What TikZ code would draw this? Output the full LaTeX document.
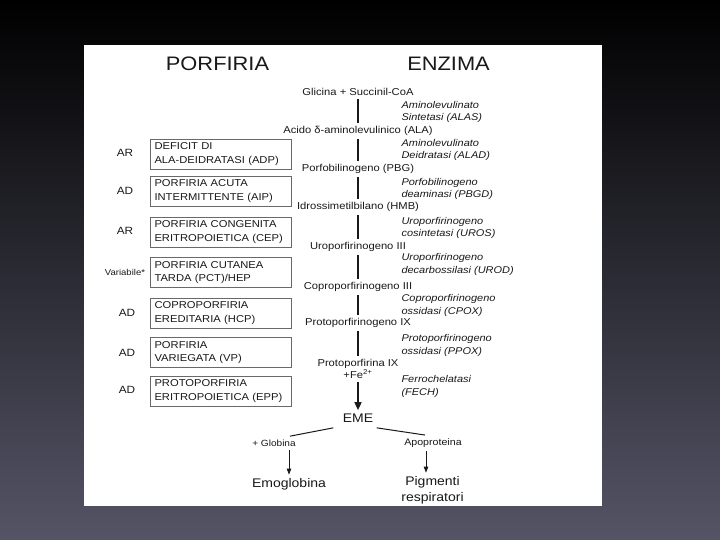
\documentclass[tikz,border=0pt]{standalone}
\usepackage{fontspec}
\setmainfont{Liberation Sans}[FakeStretch=1.12]
\usepackage{tikz}
\usetikzlibrary{arrows.meta}
\definecolor{pfInk}{RGB}{25,25,25}
\definecolor{pfBoxLine}{RGB}{105,105,105}
\definecolor{pfBgBottom}{RGB}{84,84,102}

\begin{document}
\begin{tikzpicture}[x=1pt,y=-1pt,
    pbox/.style={draw=pfBoxLine, line width=0.9pt, text=pfInk, align=left, text width=132pt,
      inner xsep=4.5pt, inner ysep=0pt, minimum height=30pt, font=\fontsize{10}{13.5}\selectfont},
    inh/.style={text=pfInk, font=\fontsize{10.5}{12}\selectfont},
    metab/.style={text=pfInk, align=center, font=\fontsize{10}{12}\selectfont},
    enz/.style={text=pfInk, anchor=west, align=left, font=\fontsize{9.8}{12.5}\selectfont\itshape},
    link/.style={pfInk, line width=1.6pt},
    thinarrow/.style={pfInk, line width=0.8pt, -{Triangle[length=6pt,width=4.5pt]}}]
    \useasboundingbox (0,0) rectangle (720,540);

    % slide background and panel
    \shade[top color=black, bottom color=pfBgBottom] (0,0) rectangle (720,540);
    \fill[white] (84,45) rectangle (602,506);

    % headings
    \node[text=pfInk, font=\fontsize{19.5}{22}\selectfont] (hdpor) at (217.5,64) {PORFIRIA};
    \node[text=pfInk, font=\fontsize{19.5}{22}\selectfont] (hdenz) at (448.5,64) {ENZIMA};

    % porphyrias
    \node[pbox] (adp) at (220.5,154) {DEFICIT DI\\ALA-DEIDRATASI (ADP)};
    \node[pbox] (aip) at (220.5,191) {PORFIRIA ACUTA\\INTERMITTENTE (AIP)};
    \node[pbox] (cep) at (220.5,232) {PORFIRIA CONGENITA\\ERITROPOIETICA (CEP)};
    \node[pbox] (pct) at (220.5,272.5) {PORFIRIA CUTANEA\\TARDA (PCT)/HEP};
    \node[pbox] (hcp) at (220.5,313) {COPROPORFIRIA\\EREDITARIA (HCP)};
    \node[pbox] (vp)  at (220.5,352.5) {PORFIRIA\\VARIEGATA (VP)};
    \node[pbox] (epp) at (220.5,391) {PROTOPORFIRIA\\ERITROPOIETICA (EPP)};

    % inheritance
    \node[inh] (iadp) at (125,153) {AR};
    \node[inh] (iaip) at (125,191) {AD};
    \node[inh] (icep) at (125,231) {AR};
    \node[inh, font=\fontsize{8.5}{10}\selectfont] (ipct) at (125,272) {Variabile*};
    \node[inh] (ihcp) at (127,313) {AD};
    \node[inh] (ivp)  at (127,353) {AD};
    \node[inh] (iepp) at (127,390) {AD};

    % heme pathway
    \node[metab] (gly)    at (358,92)  {Glicina + Succinil-CoA};
    \node[metab] (ala)    at (358,131) {Acido δ-aminolevulinico (ALA)};
    \node[metab] (pbg)    at (358,169) {Porfobilinogeno (PBG)};
    \node[metab] (hmb)    at (358,207) {Idrossimetilbilano (HMB)};
    \node[metab] (urog)   at (358,247) {Uroporfirinogeno III};
    \node[metab] (coprog) at (358,287) {Coproporfirinogeno III};
    \node[metab] (protog) at (358,323) {Protoporfirinogeno IX};
    \node[metab] (proto)  at (358,369) {Protoporfirina IX\\+Fe\textsuperscript{2+}};
    \node[text=pfInk, font=\fontsize{12.5}{14}\selectfont] (eme) at (358,418) {EME};

    \draw[link] (gly) -- (ala);
    \draw[link] (ala) -- (pbg);
    \draw[link] (pbg) -- (hmb);
    \draw[link] (hmb) -- (urog);
    \draw[link] (urog) -- (coprog);
    \draw[link] (coprog) -- (protog);
    \draw[link] (protog) -- (proto);
    \draw[link, -{Triangle[length=8pt,width=7pt]}] (proto) -- (eme);

    % enzymes
    \node[enz] (alas) at (398,112)   {Aminolevulinato\\Sintetasi (ALAS)};
    \node[enz] (alad) at (398,150)   {Aminolevulinato\\Deidratasi (ALAD)};
    \node[enz] (pbgd) at (398,189)   {Porfobilinogeno\\deaminasi (PBGD)};
    \node[enz] (uros) at (398,228)   {Uroporfirinogeno\\cosintetasi (UROS)};
    \node[enz] (urod) at (398,264.5) {Uroporfirinogeno\\decarbossilasi (UROD)};
    \node[enz] (cpox) at (398,305.5) {Coproporfirinogeno\\ossidasi (CPOX)};
    \node[enz] (ppox) at (398,345.5) {Protoporfirinogeno\\ossidasi (PPOX)};
    \node[enz] (fech) at (398,386.5) {Ferrochelatasi\\(FECH)};

    % heme fate
    \node[metab, font=\fontsize{9}{11}\selectfont] (glob) at (274,443) {+ Globina};
    \node[metab, font=\fontsize{9.5}{11}\selectfont] (apo) at (433,443) {Apoproteina};
    \node[metab, font=\fontsize{12.5}{16}\selectfont] (emo) at (289,484) {Emoglobina};
    \node[metab, font=\fontsize{12.5}{16}\selectfont] (pig) at (432.5,490) {Pigmenti\\respiratori};

    \draw[pfInk, line width=1pt] ([xshift=-6pt,yshift=-2pt]eme.south west) -- ([xshift=16pt]glob.north);
    \draw[pfInk, line width=1pt] ([yshift=-2pt]eme.south east) -- ([xshift=-8pt]apo.north);
    \draw[thinarrow] (glob.south -| emo.north) -- (emo.north);
    \draw[thinarrow] ([xshift=-7pt]apo.south) -- ([xshift=-7pt]apo.south |- pig.north);
\end{tikzpicture}
\end{document}
